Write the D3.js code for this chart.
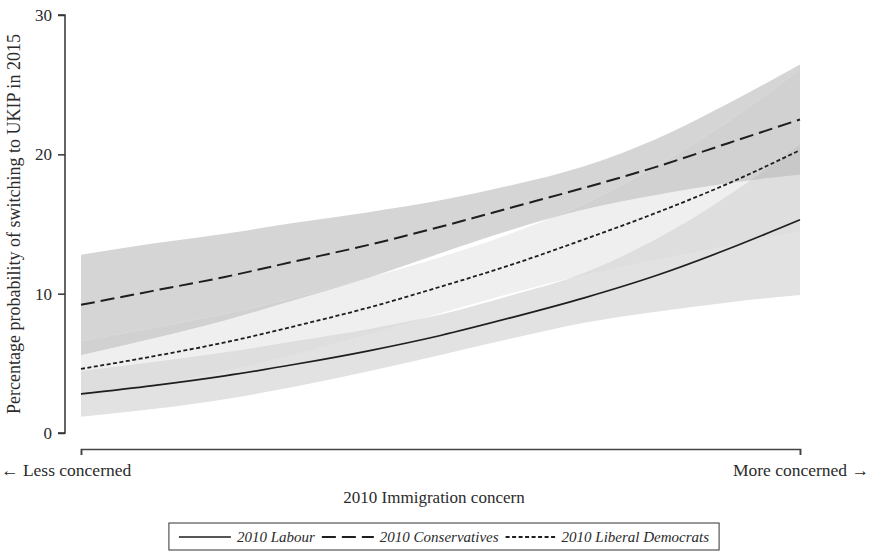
<!DOCTYPE html>
<html>
<head>
<meta charset="utf-8">
<script src="https://cdn.jsdelivr.net/npm/d3@7"></script>
<style>
  body { margin: 0; background: #fff; }
  text { font-family: "Liberation Serif", "DejaVu Serif", serif; fill: #2b2b2b; }
</style>
</head>
<body>
<div id="chart"></div>
<script>
// Immigration concern steps (0 = less concerned, 10 = more concerned)
const concern = [0, 1, 2, 3, 4, 5, 6, 7, 8, 9, 10];

// Predicted probabilities (%) with confidence limits
const labourMean = [2.8, 3.4, 4.1, 4.95, 5.9, 7.0, 8.3, 9.7, 11.3, 13.2, 15.3];
const labourLo   = [1.17, 1.72, 2.43, 3.35, 4.43, 5.6, 6.8, 7.91, 8.7, 9.37, 9.9];
const labourHi   = [4.43, 5.08, 5.77, 6.6, 7.45, 8.5, 9.9, 11.49, 13.9, 17.03, 20.7];

const conMean = [9.2, 10.2, 11.2, 12.35, 13.5, 14.8, 16.2, 17.6, 19.1, 20.8, 22.5];
const conLo   = [5.6, 6.8, 8.1, 9.6, 11.15, 12.9, 14.6, 16.05, 17.1, 17.95, 18.55];
const conHi   = [12.8, 13.6, 14.3, 15.1, 15.85, 16.7, 17.8, 19.15, 21.1, 23.65, 26.45];

const ldMean = [4.6, 5.5, 6.5, 7.7, 9.0, 10.5, 12.1, 13.9, 15.8, 17.9, 20.3];
const ldLo   = [2.6, 3.45, 4.45, 5.7, 7.1, 8.6, 10.05, 11.35, 12.45, 13.45, 14.5];
const ldHi   = [6.6, 7.55, 8.55, 9.75, 11.15, 12.62, 14.35, 16.45, 19.15, 22.35, 26.1];

const yTicks = [0, 10, 20, 30];
const legendLabels = ["2010 Labour", "2010 Conservatives", "2010 Liberal Democrats"];

const W = 872, H = 557;
const svg = d3.select("#chart").append("svg")
  .attr("width", W)
  .attr("height", H);

const x = d3.scaleLinear().domain([0, 10]).range([81, 800]);
const y = d3.scaleLinear().domain([0, 30]).range([433, 15]);

function rows(mean, lo, hi) {
  return concern.map((c, i) => ({ c: c, m: mean[i], lo: lo[i], hi: hi[i] }));
}
const labour = rows(labourMean, labourLo, labourHi);
const con = rows(conMean, conLo, conHi);
const ld = rows(ldMean, ldLo, ldHi);

const band = d3.area()
  .x(d => x(d.c))
  .y0(d => y(d.lo))
  .y1(d => y(d.hi))
  .curve(d3.curveMonotoneX);

const line = d3.line()
  .x(d => x(d.c))
  .y(d => y(d.m))
  .curve(d3.curveMonotoneX);

const defs = svg.append("defs");
defs.append("clipPath").attr("id", "clipLd")
  .append("path").attr("d", band(ld));
defs.append("clipPath").attr("id", "clipLab")
  .append("path").attr("d", band(labour));
defs.append("clipPath").attr("id", "clipCon")
  .append("path").attr("d", band(con));

// confidence bands, overlaps a shade darker
const bands = svg.append("g");
bands.append("path").attr("d", band(ld)).attr("fill", "#efefef");
bands.append("path").attr("d", band(labour)).attr("fill", "#e2e2e2");
bands.append("path").attr("d", band(labour)).attr("fill", "#dedede")
  .attr("clip-path", "url(#clipLd)");
bands.append("path").attr("d", band(con)).attr("fill", "#d5d5d5");
bands.append("path").attr("d", band(con)).attr("fill", "#d1d1d1")
  .attr("clip-path", "url(#clipLd)");
bands.append("path").attr("d", band(con)).attr("fill", "#c8c8c8")
  .attr("clip-path", "url(#clipLab)");

// faint edge of the Lib Dem band seen through the Conservative band
svg.append("path")
  .attr("d", d3.line().x(d => x(d.c)).y(d => y(d.hi)).curve(d3.curveMonotoneX)(ld))
  .attr("fill", "none")
  .attr("stroke", "#dedede")
  .attr("stroke-width", 0.6)
  .attr("clip-path", "url(#clipCon)");

// predicted lines
const styles = [
  { data: labour, dash: null, w: 1.7 },
  { data: con, dash: "14,6", w: 2 },
  { data: ld, dash: "4,2.5", w: 1.8 }
];
styles.forEach(s => {
  svg.append("path")
    .attr("d", line(s.data))
    .attr("fill", "none")
    .attr("stroke", "#1e1e1e")
    .attr("stroke-width", s.w)
    .attr("stroke-dasharray", s.dash);
});

// y axis
const yAxis = svg.append("g")
  .attr("transform", "translate(65,0)")
  .call(d3.axisLeft(y).tickValues(yTicks).tickSize(7).tickPadding(6).tickFormat(d3.format("d")));
yAxis.select(".domain").attr("stroke", "#333").attr("stroke-width", 1.5).attr("d", `M-7,${y(30)}H0V${y(0)}H-7`);
yAxis.selectAll(".tick line").attr("stroke", "#333").attr("stroke-width", 1.5);
yAxis.selectAll(".tick text")
  .style("font-family", "Liberation Serif, serif")
  .style("font-size", "17px")
  .attr("fill", "#2b2b2b");

svg.append("text")
  .attr("transform", `translate(20,${(y(0) + y(30)) / 2}) rotate(-90)`)
  .attr("text-anchor", "middle")
  .style("font-size", "18px")
  .text("Percentage probability of switching to UKIP in 2015");

// x axis bracket
const xAxis = svg.append("g")
  .attr("transform", "translate(0,449)")
  .call(d3.axisBottom(x).tickValues([0, 10]).tickSize(6).tickFormat(""));
xAxis.select(".domain").attr("stroke", "#444").attr("stroke-width", 1.6);
xAxis.selectAll(".tick line").attr("stroke", "#444").attr("stroke-width", 1.5);

svg.append("text")
  .attr("x", 1).attr("y", 476)
  .style("font-size", "17.5px")
  .text("\u2190 Less concerned");
svg.append("text")
  .attr("x", 869).attr("y", 476)
  .attr("text-anchor", "end")
  .style("font-size", "17.5px")
  .text("More concerned \u2192");
svg.append("text")
  .attr("x", 434).attr("y", 503)
  .attr("text-anchor", "middle")
  .style("font-size", "17px")
  .text("2010 Immigration concern");

// legend
const legend = svg.append("g");
const lg = legend.append("g");
let cx = 10;
styles.forEach((s, i) => {
  const len = i === 2 ? 50 : 52;
  lg.append("line")
    .attr("x1", cx).attr("x2", cx + len)
    .attr("y1", 0).attr("y2", 0)
    .attr("stroke", "#1e1e1e")
    .attr("stroke-width", s.w)
    .attr("stroke-dasharray", s.dash);
  cx += len + 6;
  const t = lg.append("text")
    .attr("x", cx).attr("y", 5)
    .style("font-size", "15px")
    .style("font-style", "italic")
    .text(legendLabels[i]);
  cx += t.node().getComputedTextLength() + 7;
});
const boxW = cx + 3;
const boxX = 444 - boxW / 2;
legend.insert("rect", ":first-child")
  .attr("x", boxX).attr("y", 523)
  .attr("width", boxW).attr("height", 27)
  .attr("fill", "none")
  .attr("stroke", "#333")
  .attr("stroke-width", 1);
lg.attr("transform", `translate(${boxX},537)`);
</script>
</body>
</html>
